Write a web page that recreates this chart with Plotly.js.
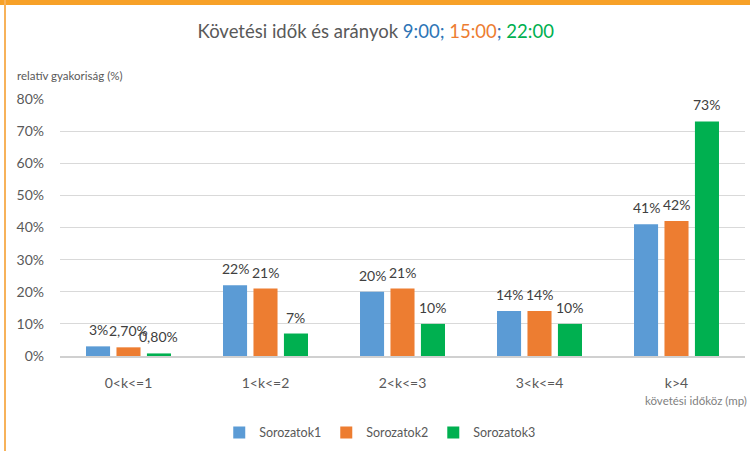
<!DOCTYPE html>
<html><head><meta charset="utf-8">
<script src="https://cdn.plot.ly/plotly-3.0.1.min.js"></script>
<style>
html,body{margin:0;padding:0;background:#fff;}
#wrap{position:relative;width:750px;height:451px;overflow:hidden;}
#chart{width:750px;height:451px;}
#topband{position:absolute;left:0;top:0;width:750px;height:5px;background:#f7a128;}
#leftband{position:absolute;left:4px;top:0;width:2px;height:451px;background:#f7b25a;}
</style></head>
<body><div id="wrap"><div id="chart"></div><div id="topband"></div><div id="leftband"></div></div>
<script>
const categories = ["0<k<=1", "1<k<=2", "2<k<=3", "3<k<=4", "k>4"];
const seriesNames = ["Sorozatok1", "Sorozatok2", "Sorozatok3"];
const s1 = [3, 22, 20, 14, 41];
const s2 = [2.7, 21, 21, 14, 42];
const s3 = [0.8, 7, 10, 10, 73];
const s1Labels = ["3%", "22%", "20%", "14%", "41%"];
const s2Labels = ["2,70%", "21%", "21%", "14%", "42%"];
const s3Labels = ["0,80%", "7%", "10%", "10%", "73%"];
const colors = ["#5b9bd5", "#ed7d31", "#00b050"];
const yTicks = [0, 10, 20, 30, 40, 50, 60, 70, 80];

const FONT = "Lato, 'Open Sans', sans-serif";
const W = 750, H = 451, ML = 60, MR = 5;
const BARGAP = 0.333, BARGROUPGAP = 0.21;
const vals = [s1, s2, s3];
const labs = [s1Labels, s2Labels, s3Labels];
const traces = vals.map((v, i) => ({
  type: "bar", name: seriesNames[i], x: categories, y: v,
  marker: {color: colors[i]}, hoverinfo: "none"
}));

// data labels above each bar, offset to the bar's slot within its group
const slot = (W - ML - MR) / categories.length * (1 - BARGAP) / vals.length;
const labelAnns = [];
vals.forEach((v, i) => {
  v.forEach((val, j) => {
    labelAnns.push({
      text: labs[i][j], x: categories[j], y: val, xref: "x", yref: "y",
      xshift: (i - (vals.length - 1) / 2) * slot, yshift: 6,
      xanchor: "center", yanchor: "bottom", showarrow: false,
      font: {family: FONT, size: 14, color: "#404040"}
    });
  });
});

const layout = {
  width: W, height: H,
  margin: {l: ML, r: MR, t: 99, b: 95},
  paper_bgcolor: "#fff", plot_bgcolor: "#fff",
  font: {family: FONT, color: "#595959"},
  title: {
    text: "Követési idők és arányok <span style='color:#2e75b6'>9:00;</span> <span style='color:#ed7d31'>15:00</span><span style='color:#2e75b6'>;</span> <span style='color:#00b050'>22:00</span>",
    font: {family: FONT, size: 18.5, color: "#595959"},
    x: 0.501, xref: "container", xanchor: "center",
    y: 0.929, yref: "container", yanchor: "middle"
  },
  barmode: "group", bargap: BARGAP, bargroupgap: BARGROUPGAP,
  xaxis: {
    type: "category", showgrid: false, showline: true, linecolor: "#d0d0d0", linewidth: 1.5,
    ticks: "", ticklabelstandoff: 14,
    tickfont: {family: FONT, size: 14, color: "#595959"}, fixedrange: true
  },
  yaxis: {
    range: [0, 80], tickvals: yTicks, ticktext: yTicks.map(t => t + "%"),
    showgrid: true, gridcolor: "#d9d9d9", gridwidth: 1, zeroline: false,
    ticks: "", ticklabelstandoff: 15,
    tickfont: {family: FONT, size: 14, color: "#595959"}, fixedrange: true
  },
  showlegend: true,
  legend: {
    orientation: "h", x: 0.507, xref: "container", xanchor: "center",
    y: 0.04, yref: "container", yanchor: "middle",
    font: {family: FONT, size: 12.5, color: "#595959"}, itemwidth: 30, traceorder: "normal"
  },
  annotations: labelAnns.concat([
    {text: "relatív gyakoriság (%)", xref: "paper", yref: "paper", x: -0.066, y: (356 - 75) / 257,
     xanchor: "left", yanchor: "middle", showarrow: false,
     font: {family: FONT, size: 11.5, color: "#595959"}},
    {text: "követési időköz (mp)", xref: "paper", yref: "paper", x: 1.0, xshift: 4, y: -(400 - 356) / 257,
     xanchor: "right", yanchor: "middle", showarrow: false,
     font: {family: FONT, size: 11.5, color: "#7f7f7f"}}
  ])
};
Plotly.newPlot("chart", traces, layout, {displayModeBar: false, staticPlot: true});
</script></body></html>
